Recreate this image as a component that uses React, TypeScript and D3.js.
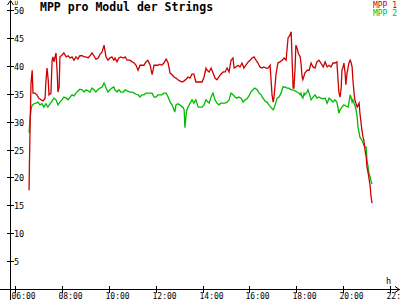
import React, { useEffect, useRef } from "react";
import * as d3 from "d3";

// times in minutes since midnight, values in volts
const mpp1Times = [
  396, 397, 399, 401, 404, 406, 411, 416, 421, 427, 432, 437, 439, 442, 445, 447, 452, 455, 457, 460,
  462, 465, 468, 470, 473, 475, 480, 485, 491, 496, 501, 506, 511, 516, 521, 526, 532, 537, 542, 547,
  552, 557, 562, 567, 573, 578, 583, 588, 590, 593, 598, 603, 608, 613, 616, 621, 626, 631, 637, 642,
  647, 654, 660, 665, 670, 675, 680, 685, 690, 695, 700, 706, 711, 716, 721, 726, 731, 736, 741, 747,
  752, 757, 762, 767, 772, 777, 782, 788, 793, 798, 803, 808, 813, 818, 823, 829, 834, 839, 844, 849,
  852, 857, 862, 867, 872, 877, 882, 887, 893, 898, 903, 908, 913, 918, 921, 926, 931, 936, 941, 946,
  951, 957, 962, 967, 972, 977, 982, 987, 992, 997, 1003, 1008, 1013, 1018, 1021, 1023, 1026, 1028, 1033, 1038,
  1044, 1049, 1054, 1059, 1061, 1064, 1067, 1069, 1072, 1074, 1077, 1079, 1082, 1085, 1090, 1092, 1095, 1097, 1102, 1108,
  1113, 1118, 1123, 1128, 1133, 1138, 1143, 1149, 1154, 1159, 1164, 1169, 1174, 1179, 1184, 1187, 1189, 1192, 1195, 1197,
  1200, 1202, 1205, 1207, 1210, 1213, 1215, 1218, 1220, 1223, 1225, 1228, 1230, 1236, 1241, 1243, 1246, 1248, 1251, 1253,
  1256, 1259, 1261, 1264, 1266, 1269, 1271, 1274,
];
const mpp1Values = [
  17.7, 22.6, 30.5, 36.9, 39.2, 35.1, 35.1, 34.8, 34.2, 33.9, 33.7, 34.2, 37.1, 39.6, 37.5, 34.8, 35.1, 41.0, 41.6, 40.7,
  41.4, 42.3, 38.7, 35.3, 36.2, 41.6, 41.9, 42.3, 41.6, 41.8, 41.4, 41.6, 41.0, 41.6, 41.2, 41.8, 41.8, 41.6, 41.6, 41.4,
  41.8, 42.3, 41.8, 41.2, 41.4, 42.1, 42.5, 43.7, 42.8, 41.6, 41.0, 41.4, 41.6, 41.0, 41.4, 40.7, 41.4, 41.6, 41.4, 41.6,
  41.0, 41.0, 40.7, 40.5, 40.1, 39.2, 40.1, 40.1, 40.1, 40.7, 41.0, 40.1, 38.4, 40.1, 40.1, 40.1, 40.3, 40.1, 40.5, 41.2,
  40.5, 38.7, 38.4, 38.0, 37.8, 37.5, 37.3, 37.1, 37.3, 37.6, 38.0, 37.8, 38.5, 38.5, 37.1, 37.1, 37.1, 37.1, 38.0, 39.6,
  39.2, 38.9, 39.6, 38.7, 37.8, 37.5, 38.0, 38.5, 38.9, 38.9, 39.6, 38.9, 41.0, 41.4, 39.6, 39.8, 40.1, 39.8, 40.5, 39.6,
  40.1, 40.7, 41.0, 41.4, 41.6, 41.0, 40.5, 39.8, 39.6, 39.8, 39.6, 39.6, 40.1, 34.8, 33.5, 34.4, 36.6, 38.4, 40.5, 40.7,
  41.0, 41.4, 41.0, 45.0, 45.2, 45.5, 46.1, 41.9, 36.0, 36.0, 39.6, 43.7, 43.2, 42.3, 41.6, 40.5, 38.0, 37.5, 38.7, 39.2,
  39.2, 40.5, 39.8, 39.6, 40.7, 41.0, 40.5, 39.8, 40.7, 39.8, 40.1, 39.8, 40.5, 40.5, 40.7, 37.5, 35.3, 34.4, 36.0, 39.2,
  39.8, 40.5, 38.7, 36.6, 38.7, 39.8, 40.5, 41.0, 40.7, 39.8, 37.5, 35.1, 33.9, 32.6, 33.3, 31.5, 29.7, 28.5, 27.2, 26.7,
  24.9, 23.7, 21.9, 20.8, 19.9, 18.6, 16.8, 15.4,
];

const mpp2Times = [
  396, 397, 399, 401, 404, 409, 414, 419, 424, 429, 434, 439, 444, 450, 455, 460, 465, 470, 475, 480,
  485, 491, 496, 501, 506, 511, 516, 521, 526, 532, 537, 542, 547, 552, 557, 562, 567, 573, 578, 583,
  588, 590, 593, 598, 603, 608, 613, 616, 621, 626, 631, 637, 642, 647, 654, 660, 665, 670, 675, 680,
  685, 690, 695, 700, 706, 711, 716, 721, 726, 731, 736, 741, 747, 752, 757, 762, 767, 769, 772, 777,
  782, 788, 790, 793, 795, 798, 800, 803, 808, 813, 818, 823, 829, 834, 839, 844, 849, 854, 857, 862,
  867, 872, 877, 882, 887, 893, 898, 903, 908, 913, 918, 923, 928, 933, 939, 944, 949, 954, 959, 964,
  969, 974, 980, 985, 990, 995, 1000, 1005, 1010, 1015, 1021, 1023, 1026, 1031, 1036, 1041, 1046, 1051, 1056, 1061,
  1067, 1072, 1077, 1082, 1087, 1090, 1092, 1095, 1097, 1100, 1102, 1108, 1110, 1113, 1118, 1123, 1128, 1133, 1138, 1143,
  1149, 1154, 1159, 1164, 1169, 1174, 1179, 1184, 1187, 1189, 1192, 1197, 1202, 1207, 1213, 1215, 1218, 1220, 1223, 1225,
  1228, 1230, 1233, 1236, 1238, 1241, 1243, 1248, 1251, 1253, 1256, 1259, 1261, 1264, 1266, 1269, 1271, 1274,
];
const mpp2Values = [
  28.0, 29.0, 30.8, 32.1, 33.0, 33.2, 33.3, 33.5, 33.0, 33.2, 32.6, 33.2, 32.6, 33.2, 33.7, 34.2, 33.9, 33.0, 33.5, 33.9,
  34.4, 34.2, 33.9, 34.4, 34.8, 34.6, 35.1, 35.5, 35.8, 35.7, 35.3, 35.7, 35.5, 35.3, 36.0, 35.7, 35.3, 35.8, 36.0, 36.2,
  36.9, 36.6, 36.0, 35.3, 35.7, 36.0, 36.2, 35.7, 35.3, 35.7, 35.3, 35.3, 35.7, 35.5, 35.3, 35.3, 35.1, 34.9, 34.8, 34.4,
  34.8, 34.8, 35.1, 35.1, 35.1, 35.1, 34.4, 34.4, 34.8, 34.8, 34.8, 35.1, 35.1, 34.4, 33.5, 33.0, 32.1, 31.7, 33.0, 33.2,
  33.0, 32.6, 32.6, 32.1, 28.9, 31.2, 32.1, 32.6, 33.3, 33.9, 33.3, 33.9, 32.6, 32.6, 32.6, 33.0, 33.9, 33.5, 33.3, 34.4,
  35.1, 33.9, 33.3, 33.0, 33.3, 33.3, 33.3, 33.5, 33.9, 35.1, 34.8, 34.4, 34.2, 34.4, 34.2, 33.5, 33.9, 34.1, 34.6, 35.3,
  35.7, 36.0, 35.7, 35.1, 34.8, 34.2, 33.7, 33.5, 33.0, 32.6, 32.1, 32.4, 33.0, 34.2, 34.4, 35.1, 36.2, 36.2, 36.0, 36.0,
  35.7, 35.7, 35.5, 35.3, 35.1, 34.8, 35.1, 34.4, 34.2, 35.1, 34.8, 35.3, 35.7, 35.1, 33.9, 34.4, 34.8, 34.2, 34.4, 34.2,
  34.1, 34.2, 33.3, 34.2, 33.9, 33.5, 33.9, 33.5, 32.4, 31.5, 32.1, 32.6, 33.0, 32.8, 32.6, 33.5, 34.8, 34.4, 33.5, 33.9,
  33.3, 33.0, 32.1, 30.8, 29.0, 28.0, 27.2, 26.7, 26.2, 25.8, 25.4, 25.4, 23.1, 21.9, 20.8, 20.1, 19.5, 18.8,
];

const yTicks = [5, 10, 15, 20, 25, 30, 35, 40, 45, 50];
const xTicks = [360, 480, 600, 720, 840, 960, 1080, 1200, 1320];
const seriesNames = ["MPP 1", "MPP 2"];
const seriesColors = ["#cc0000", "#00bb00"];

const mono = "'DejaVu Sans Mono', monospace";

const App = () => {
  const svgRef = useRef(null);

  useEffect(() => {
    const svg = d3.select(svgRef.current);
    svg.selectAll("*").remove();

    const x = d3.scaleLinear().domain([360, 1320]).range([15, 390]);
    const y = d3.scaleLinear().domain([0, 50]).range([289, 10]);

    const fmt = (m) => d3.format("02d")(Math.floor(m / 60)) + ":" + d3.format("02d")(m % 60);

    // axes
    svg.append("line").attr("x1", 10.5).attr("x2", 10.5).attr("y1", 1).attr("y2", 300)
      .attr("stroke", "#000");
    svg.append("line").attr("x1", 0).attr("x2", 400).attr("y1", 289.5).attr("y2", 289.5)
      .attr("stroke", "#000");
    svg.append("path").attr("d", "M7.5,5 L10.5,0.5 L13.5,5").attr("fill", "none").attr("stroke", "#000");
    svg.append("path").attr("d", "M395,286.5 L399.5,289.5 L395,292.5").attr("fill", "none").attr("stroke", "#000");

    yTicks.forEach((t) => {
      const yy = Math.round(y(t)) + 0.5;
      svg.append("line").attr("x1", 7).attr("x2", 14).attr("y1", yy).attr("y2", yy).attr("stroke", "#000");
      svg.append("text").attr("x", 14).attr("y", yy + 3.5).text(t)
        .attr("font-family", mono).attr("font-size", 8.5).attr("fill", "#000");
    });
    svg.append("text").attr("x", 14.5).attr("y", 5).text("U")
      .attr("font-family", mono).attr("font-size", 6).attr("fill", "#000");

    xTicks.forEach((t) => {
      const xx = Math.round(x(t)) + 0.5;
      svg.append("line").attr("x1", xx).attr("x2", xx).attr("y1", 286).attr("y2", 293).attr("stroke", "#000");
      svg.append("text").attr("x", xx - 4).attr("y", 299).text(fmt(t))
        .attr("font-family", mono).attr("font-size", 8).attr("fill", "#000");
    });
    svg.append("text").attr("x", 386).attr("y", 284).text("h")
      .attr("font-family", mono).attr("font-size", 8.5).attr("fill", "#000");

    // title
    svg.append("text").attr("x", 40).attr("y", 11).text("MPP pro Modul der Strings")
      .attr("font-family", mono).attr("font-size", 11.5).attr("font-weight", "bold").attr("fill", "#000");

    // legend
    seriesNames.forEach((name, i) => {
      svg.append("text").attr("x", 397).attr("y", 8 + i * 8).attr("text-anchor", "end").text(name)
        .attr("font-family", mono).attr("font-size", 8).attr("fill", seriesColors[i]);
    });

    const line = d3.line().x((d) => x(d[0])).y((d) => y(d[1]));

    const series = [
      d3.zip(mpp2Times, mpp2Values),
      d3.zip(mpp1Times, mpp1Values),
    ];
    const colors = [seriesColors[1], seriesColors[0]];

    series.forEach((data, i) => {
      svg.append("path")
        .attr("d", line(data))
        .attr("fill", "none")
        .attr("stroke", colors[i])
        .attr("stroke-width", 1.3)
        .attr("stroke-linejoin", "miter");
    });
  }, []);

  return (
    <svg
      ref={svgRef}
      width={400}
      height={300}
      viewBox="0 0 400 300"
      xmlns="http://www.w3.org/2000/svg"
      style={{ position: "absolute", left: 0, top: 0, background: "#fff" }}
    ></svg>
  );
};

export default App;
